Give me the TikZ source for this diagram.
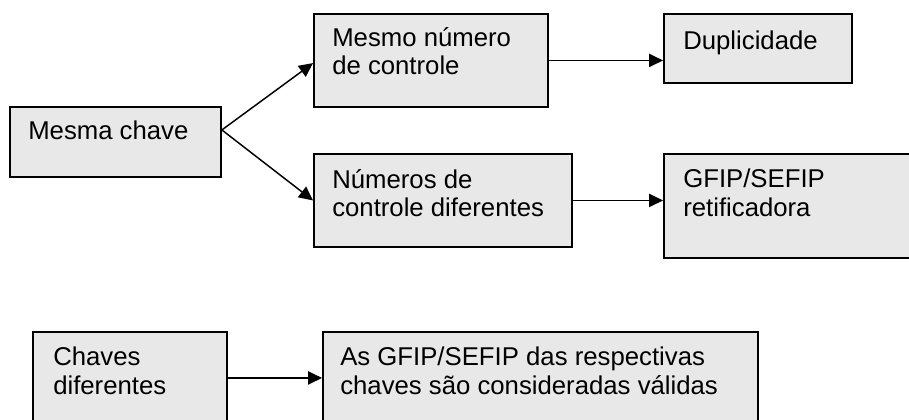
\documentclass[tikz,border=0pt]{standalone}
\usepackage{fontspec}
\setmainfont{Liberation Sans}
\usetikzlibrary{arrows.meta}
\definecolor{boxgray}{RGB}{232,232,232}
\tikzset{>={Triangle[length=10.5pt,width=10pt]},
    box/.style={draw,line width=1.4pt,fill=boxgray,anchor=north west,inner sep=0pt},
    txt/.style={anchor=north west,inner sep=0pt,align=left,
        font=\fontsize{19.3pt}{21.4pt}\selectfont},
    arr/.style={->,line width=1.1pt}}

\begin{document}
\begin{tikzpicture}[x=0.75pt,y=-0.75pt]
    \useasboundingbox (0,0) rectangle (909,419);
    \clip (0,0) rectangle (909,419);
    \node[box,minimum width=158.25pt,minimum height=52.5pt] (chave) at (9,106) {};
    \node[box,minimum width=175.5pt,minimum height=69.75pt] (mesmo) at (313,13) {};
    \node[box,minimum width=141pt,minimum height=51.75pt] (dup) at (663,13) {};
    \node[box,minimum width=193.5pt,minimum height=69.75pt] (dif) at (313,153) {};
    \node[box,minimum width=195pt,minimum height=78pt] (retif) at (663,153) {};
    \node[box,minimum width=145.5pt,minimum height=69pt] (chaves) at (32,331) {};
    \node[box,minimum width=326.25pt,minimum height=69pt] (validas) at (322,331) {};
    \node[txt] (tchave) at ([shift={(19,15)}]chave.north west) {Mesma chave};
    \node[txt] (tmesmo) at ([shift={(19,14)}]mesmo.north west) {Mesmo número\\de controle};
    \node[txt] (tdup) at ([shift={(20,18)}]dup.north west) {Duplicidade};
    \node[txt] (tdif) at ([shift={(19,16)}]dif.north west) {Números de\\controle diferentes};
    \node[txt] (tretif) at ([shift={(20,16)}]retif.north west) {GFIP/SEFIP\\retificadora};
    \node[txt] (tchaves) at ([shift={(21,16)}]chaves.north west) {Chaves\\diferentes};
    \node[txt] (tvalidas) at ([shift={(18,16)}]validas.north west) {As GFIP/SEFIP das respectivas\\chaves são consideradas válidas};
    \coordinate (fork) at ([yshift=9pt]chave.east);
    \draw[arr] (fork) -- ([yshift=-2pt]mesmo.west);
    \draw[arr] (fork) -- (dif.west);
    \draw[arr] (mesmo.east) -- (mesmo.east -| dup.west);
    \draw[arr] (dif.east) -- (dif.east -| retif.west);
    \draw[arr] (chaves.east) -- (validas.west);
\end{tikzpicture}
\end{document}
